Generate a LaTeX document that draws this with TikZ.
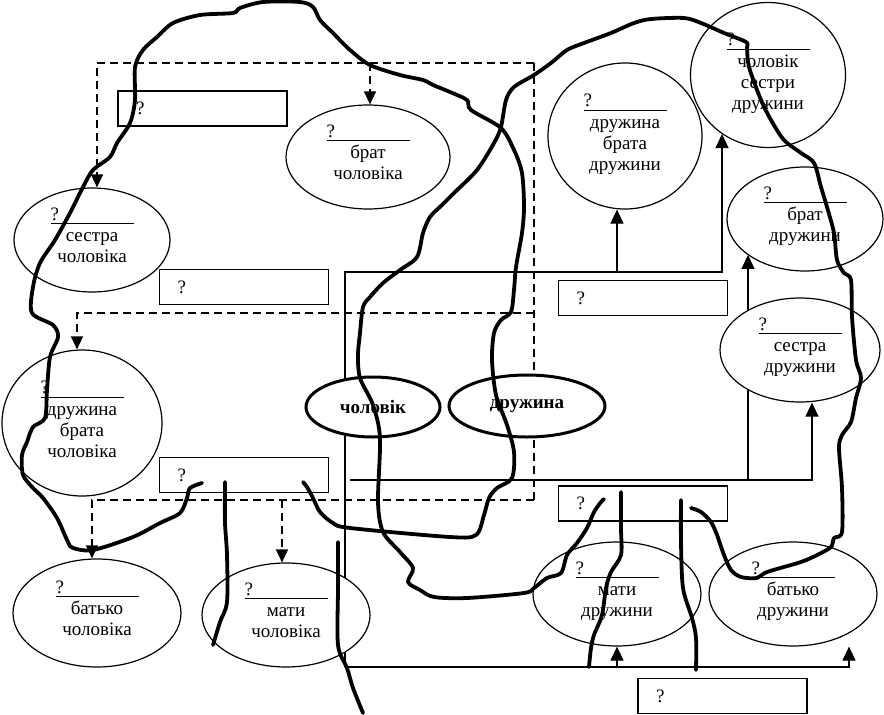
\documentclass[tikz,border=0pt]{standalone}
\usepackage{fontspec}
\setmainfont{Liberation Serif}
\usetikzlibrary{arrows.meta,shapes.geometric,calc,backgrounds}
\newcommand{\kinfont}{\fontsize{19}{21}\selectfont}
\newcommand{\kintwo}[2]{\begin{tabular}{@{}c@{}}\makebox[83pt][l]{?}\\[-3pt]\hline\noalign{\vskip3pt}#1\\#2\rule[-12pt]{0pt}{12pt}\end{tabular}}
\newcommand{\kinthree}[3]{\begin{tabular}{@{}c@{}}\makebox[83pt][l]{?}\\[-3pt]\hline\noalign{\vskip3pt}#1\\#2\\#3\rule[-10pt]{0pt}{10pt}\end{tabular}}
\tikzset{
  kinell/.style={draw,ellipse,line width=1.2pt,fill=white,inner sep=0pt,
    font=\kinfont,minimum width=168pt,minimum height=104pt},
  coreell/.style={draw,ellipse,line width=3pt,fill=white,inner sep=0pt,
    font=\kinfont\bfseries},
  qbox/.style={draw,line width=1.2pt,fill=white,minimum width=169pt,
    minimum height=35pt,text width=133pt,inner xsep=18pt,align=left,font=\kinfont},
  bloodframe/.style={line width=1.5pt,dash pattern=on 8pt off 5pt},
  bloodline/.style={bloodframe,-{Triangle[length=13pt,width=12pt]}},
  affline/.style={line width=1.2pt},
  affarrow/.style={affline,-{Triangle[length=14pt,width=13pt]}},
  cutline/.style={line width=3.8pt,line join=round,line cap=round}
}
\begin{document}
\begin{tikzpicture}[x=1pt,y=-1pt]
  \useasboundingbox (0,0) rectangle (884,715);
  % husband's side
  \node[kinell,minimum width=156pt] (sc) at (92,240) {\kintwo{сестра}{чоловіка}};
  \node[kinell,minimum width=164pt] (bc) at (368,157) {\kintwo{брат}{чоловіка}};
  \node[kinell,minimum width=160pt,minimum height=146pt] (dbc) at (82,423) {\kinthree{дружина}{брата}{чоловіка}};
  \node[kinell,minimum height=108pt] (btc) at (97,613) {\kintwo{батько}{чоловіка}};
  \node[kinell] (mc) at (286,615) {\kintwo{мати}{чоловіка}};
  % the couple
  \node[coreell,minimum width=134pt,minimum height=60pt] (chol) at (373,407) {чоловік};
  \node[coreell,minimum width=156pt,minimum height=62pt] (druz) at (527,406) {дружина};
  % wife's side
  \node[kinell,minimum width=154pt,minimum height=146pt] (brd) at (625,136) {\kinthree{дружина}{брата}{дружини}};
  \node[kinell,minimum width=155pt,minimum height=145pt] (csk) at (768,75) {\kinthree{чоловік}{сестри}{дружини}};
  \node[kinell,minimum width=156pt] (bdr) at (805,219) {\kintwo{брат}{дружини}};
  \node[kinell,minimum width=160pt] (sd) at (800,350) {\kintwo{сестра}{дружини}};
  \node[kinell] (md) at (617,594) {\kintwo{мати}{дружини}};
  \node[kinell] (bd) at (793,594) {\kintwo{батько}{дружини}};
  % answer boxes
  \node[qbox] (q1) at (202.5,108.5) {?};
  \node[qbox] (q2) at (244,287) {?};
  \node[qbox] (q3) at (643,298) {?};
  \node[qbox] (q4) at (244,475) {?};
  \node[qbox] (q5) at (643,503.5) {?};
  \node[qbox] (q6) at (722.5,696) {?};
  \begin{scope}[on background layer]
    % blood relatives of the husband
    \coordinate (dTR) at (534,63);
    \coordinate (dTL) at (97,63);
    \coordinate (dBr) at (370,63);
    \coordinate (dMR) at (534,313);
    \coordinate (dML) at (77,313);
    \coordinate (dBR) at (534,500);
    \coordinate (dBL) at (92,500);
    \coordinate (dMc) at (282,500);
    \draw[bloodframe] (dTR) -- (dBR);
    \draw[bloodline] (dTR) -- (dTL) -- (dTL |- sc.north);
    \draw[bloodline] (dBr) -- (dBr |- bc.north);
    \draw[bloodline] (dMR) -- (dML) -- (dML |- dbc.north);
    \draw[bloodline] (dBR) -- (dBL) -- (dBL |- btc.north);
    \draw[bloodline] (dMc) -- (dMc |- mc.north);
    % relatives of the wife
    \coordinate (aTL) at (345,272);
    \coordinate (aBr) at (617,272);
    \coordinate (aTR) at (722,272);
    \coordinate (aBL) at (345,667);
    \coordinate (aBm) at (617,667);
    \coordinate (aBR) at (849,667);
    \coordinate (aML) at (350,480);
    \coordinate (aMm) at (748,480);
    \coordinate (aMR) at (812,480);
    \draw[affarrow] (aBL) -- (aTL) -- (aTR) -- (aTR |- csk.-128);
    \draw[affarrow] (aBr) -- (aBr |- brd.south);
    \draw[affarrow] (aBL) -- (aBR) -- (aBR |- bd.south);
    \draw[affarrow] (aBm) -- (aBm |- md.south);
    \draw[affarrow] (aML) -- (aMR) -- (aMR |- sd.south);
    \draw[affarrow] (aMm) -- (aMm |- bdr.-148);
  \end{scope}
  % cut lines
  \draw[cutline] plot[smooth,tension=0.5] coordinates {
    (202,483) (190,488) (187,498) (180,513) (160,523) (133,537) (93,550)
    (73,548) (68,542) (57,518) (43,498) (33,488) (23,475) (22,455) (27,442)
    (33,427) (45,418) (47,390) (50,357) (58,337) (53,325) (32,313) (33,287)
    (40,263) (55,240) (70,213) (83,187) (93,170) (110,157) (117,143) (130,123)
    (135,100) (135,67) (143,50) (157,37) (173,23) (200,15) (233,13) (240,8)
    (263,2) (300,2) (313,7) (320,20) (333,33) (350,50) (370,65) (400,75)
    (423,80) (433,85) (450,92) (467,100) (471,110) (501,128) (514,150)
    (522,173) (524,207) (522,233) (516,267) (514,290) (511,312) (501,320)
    (494,333) (492,360) (496,395) (507,425) (514,452) (512,478) (497,488)
    (489,498) (484,515) (476,535) (450,537) (350,528) (333,523) (320,512)
    (313,498) (307,487) (303,482)};
  \draw[cutline] plot[smooth,tension=0.5] coordinates {
    (604,499) (601,502) (594,512) (587,528) (577,543) (567,555) (561,573)
    (547,578) (534,588) (524,593) (467,598) (434,597) (420,590) (408,582)
    (413,568) (400,552) (383,532) (378,502) (380,438) (373,405) (360,378)
    (358,355) (360,333) (363,307) (370,297) (383,283) (400,270) (417,257)
    (423,233) (430,217) (442,205) (454,193) (477,170) (494,143) (501,127)
    (506,100) (514,87) (534,75) (551,63) (567,50) (584,43) (611,33) (634,23)
    (651,19) (684,18) (701,23) (724,33) (746,42) (747,48) (749,67) (761,100)
    (771,120) (784,140) (801,153) (814,163) (821,187) (827,207) (834,233)
    (837,260) (844,273) (851,280) (852,317) (856,360) (861,378) (856,398)
    (851,422) (842,435) (839,448) (842,488) (842,532) (834,538) (831,547)
    (817,555) (801,562) (767,572) (757,578) (741,577) (731,570) (724,555)
    (717,535) (711,522) (701,512) (691,508)};
  \draw[cutline] plot[smooth,tension=0.5] coordinates {
    (225,482) (225,522) (227,555) (227,602) (220,622) (213,645)};
  \draw[cutline] plot[smooth,tension=0.5] coordinates {
    (338,542) (338,588) (338,645) (347,668) (353,688) (363,713)};
  \draw[cutline] plot[smooth,tension=0.5] coordinates {
    (621,492) (621,528) (621,555) (611,572) (606,588) (602,615) (594,635)
    (591,648) (589,667)};
  \draw[cutline] plot[smooth,tension=0.5] coordinates {
    (681,500) (681,542) (683,588) (692,618) (696,638) (696,670)};
\end{tikzpicture}
\end{document}
